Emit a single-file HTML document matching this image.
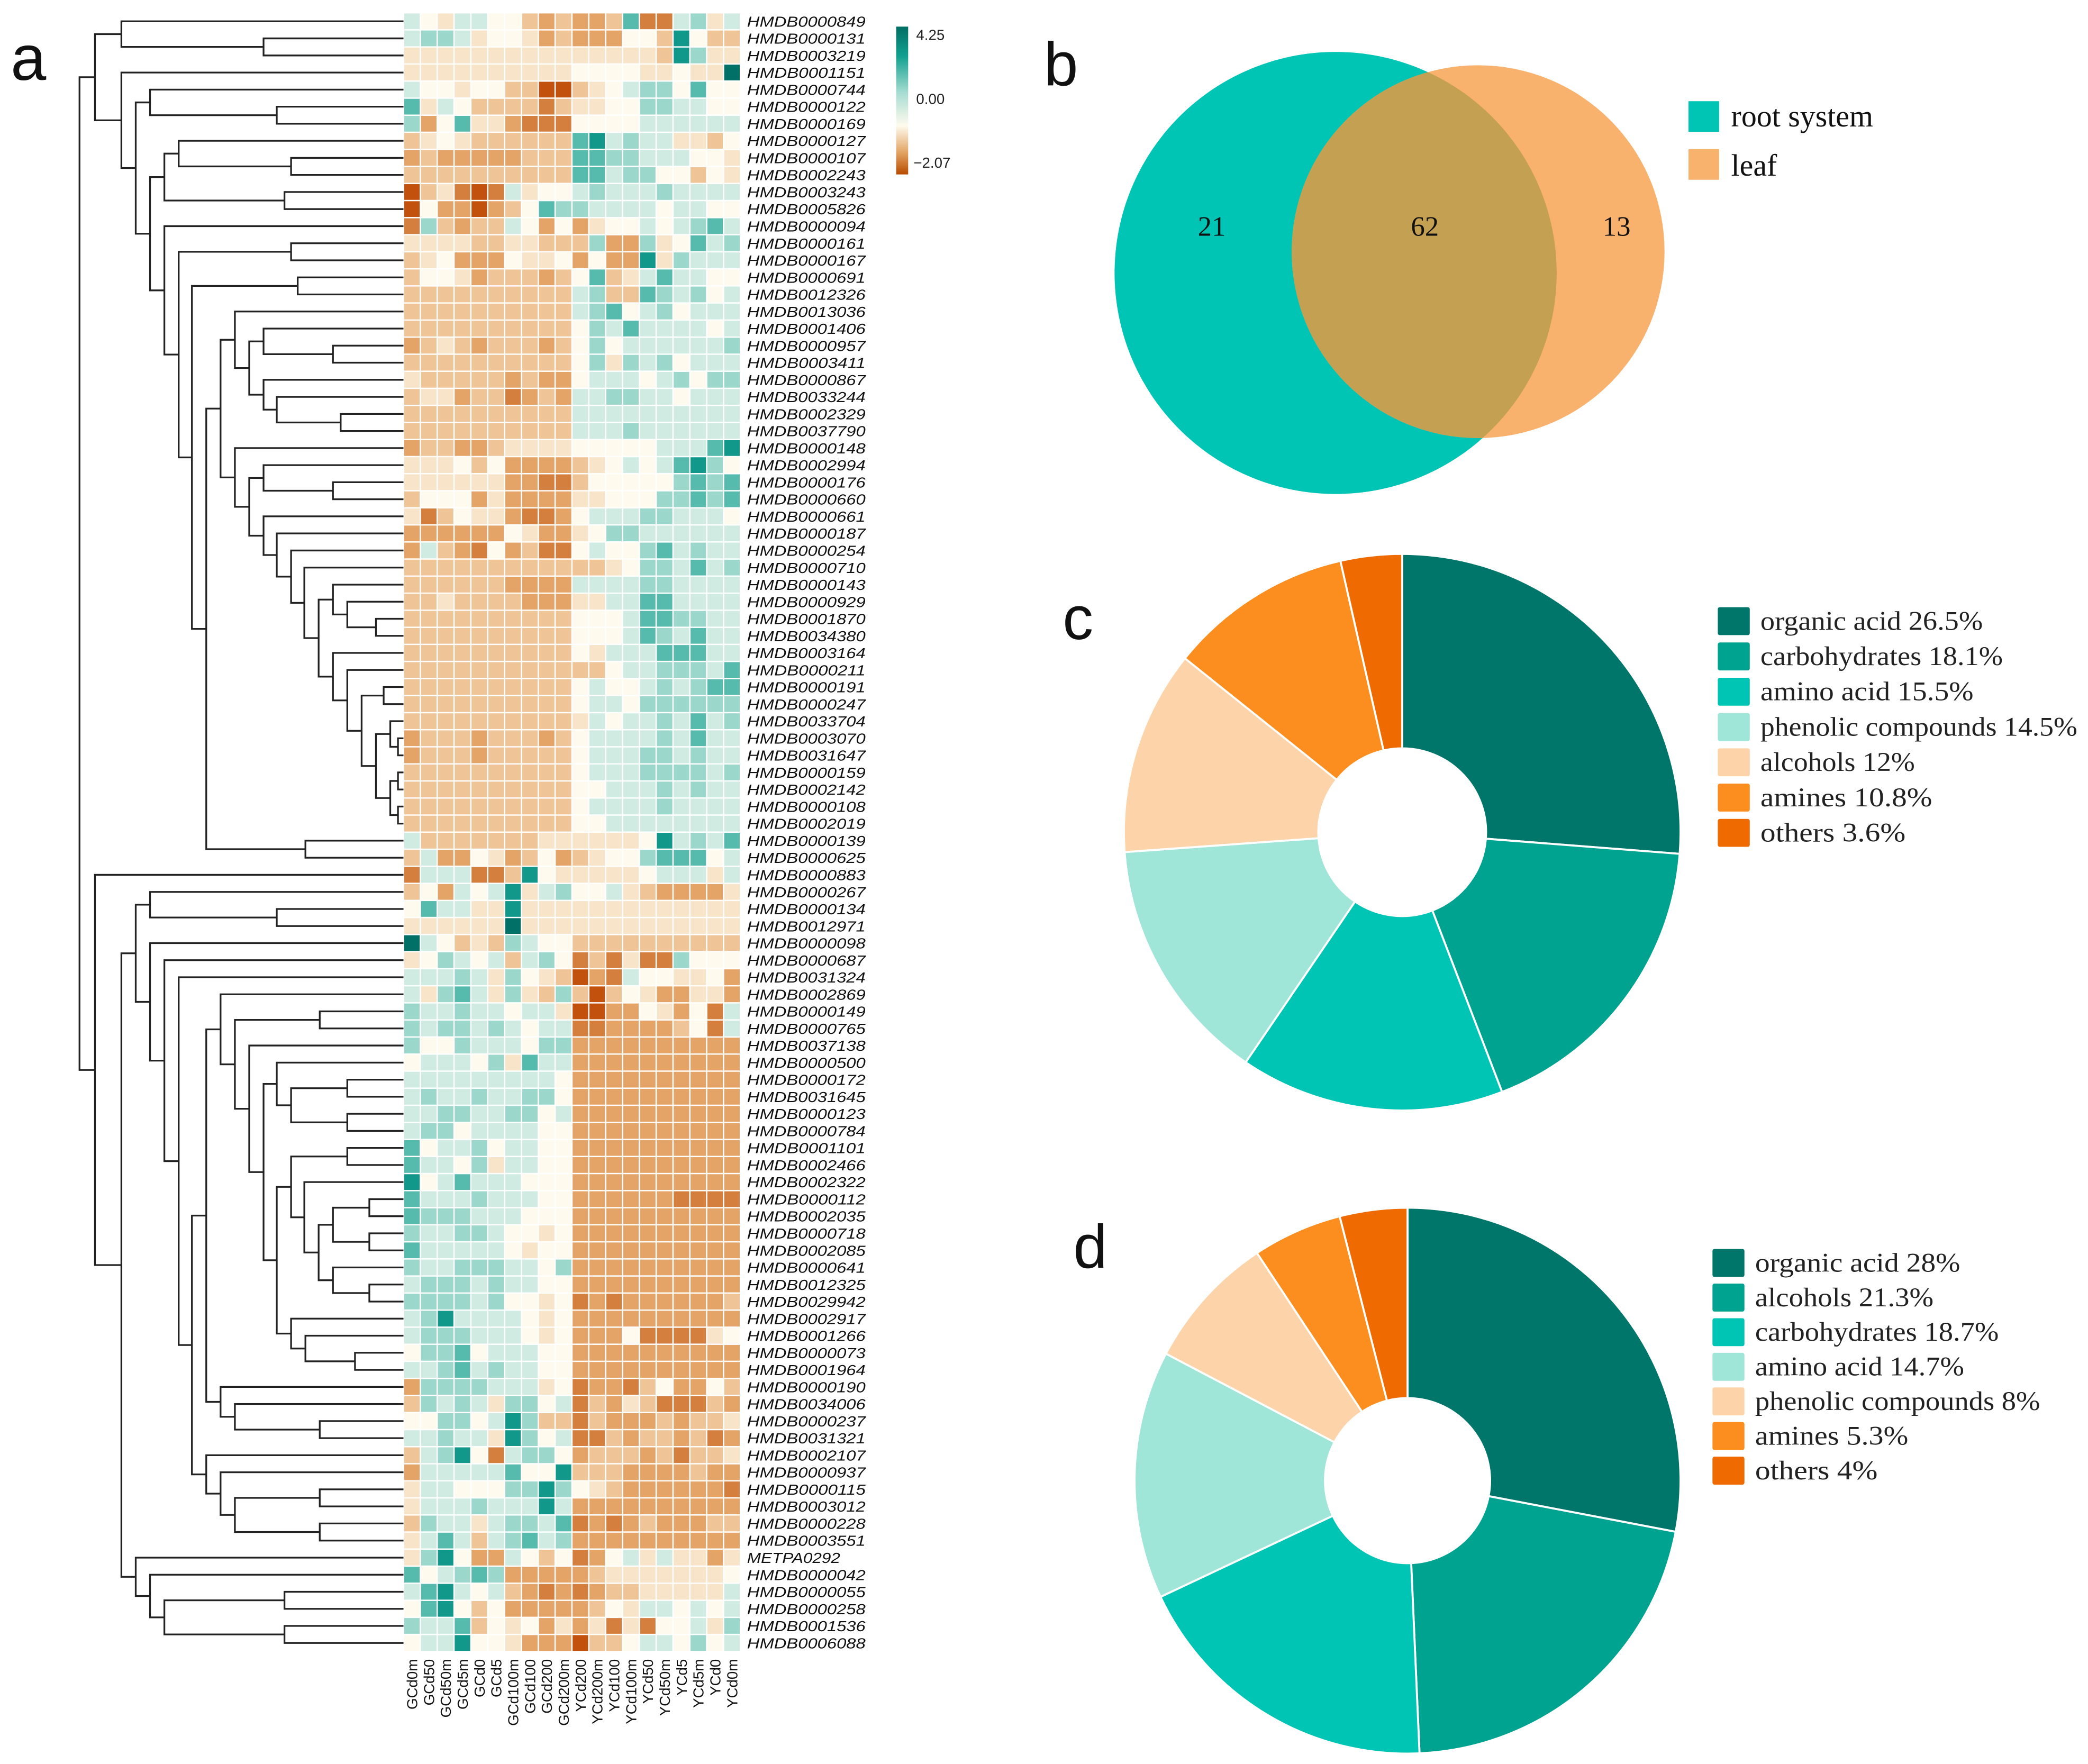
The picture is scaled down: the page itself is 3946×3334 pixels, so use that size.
<!DOCTYPE html>
<html><head><meta charset="utf-8"><title>Metabolite heatmap, Venn and donut charts</title>
<style>html,body{margin:0;padding:0;background:#fff}svg{display:block}</style></head>
<body>
<svg id="fig" xmlns="http://www.w3.org/2000/svg" width="3946" height="3334" viewBox="0 0 1568 1324.8" preserveAspectRatio="none">
<defs>
<linearGradient id="cbar" x1="0" y1="0" x2="0" y2="1">
<stop offset="0" stop-color="#006e64"/><stop offset="0.2" stop-color="#12a090"/><stop offset="0.45" stop-color="#a8ddd2"/><stop offset="0.67" stop-color="#fefbee"/><stop offset="0.85" stop-color="#e3a464"/><stop offset="1" stop-color="#b84b00"/>
</linearGradient>
<clipPath id="rootClip"><circle cx="1003" cy="205" r="166"/></clipPath>
</defs>
<g id="heat"></g>
<g id="dend" stroke="#222" stroke-width="1.3" fill="none"></g>
<g id="rowlabels" font-family="Liberation Sans, sans-serif" font-style="italic" font-size="11" fill="#111"></g>
<g id="collabels" font-family="Liberation Sans, sans-serif" font-size="11" fill="#111"></g>
<text x="8" y="60" font-family="Liberation Sans, sans-serif" font-size="48" fill="#111">a</text>
<g font-family="Liberation Sans, sans-serif" font-size="11" fill="#222">
<rect x="673" y="20" width="9" height="111" fill="url(#cbar)"/>
<text x="688" y="30">4.25</text>
<text x="688" y="78">0.00</text>
<text x="686" y="126">−2.07</text>
</g>
<g id="venn" font-family="Liberation Serif, serif" fill="#111">
<circle cx="1003" cy="205" r="166" fill="#00c5b5"/>
<circle cx="1110" cy="189" r="140" fill="#f9b26e"/>
<circle cx="1110" cy="189" r="140" fill="#c4a052" clip-path="url(#rootClip)"/>
<text x="910" y="177" font-size="21" text-anchor="middle">21</text>
<text x="1070" y="177" font-size="21" text-anchor="middle">62</text>
<text x="1214" y="177" font-size="21" text-anchor="middle">13</text>
<rect x="1268" y="76" width="23" height="23" fill="#00c5b5"/>
<text x="1300" y="95" font-size="23">root system</text>
<rect x="1268" y="112" width="23" height="23" fill="#f9b26e"/>
<text x="1300" y="132" font-size="23">leaf</text>
</g>
<text x="784" y="64" font-family="Liberation Sans, sans-serif" font-size="46" fill="#111">b</text>
<text x="798" y="480" font-family="Liberation Sans, sans-serif" font-size="46" fill="#111">c</text>
<text x="806" y="952" font-family="Liberation Sans, sans-serif" font-size="46" fill="#111">d</text>
<g id="pieC"></g>
<g id="pieD"></g>
</svg>
<script>
const heatRows = [
"10E1100DCDCCD3BB12E1","1221E00ECDCCC00D40DD","EEEEEEEEEEEEEEED42EE","EEEEEEEEEE0000EE0EE5",
"100E00DDAADE01220300","3E10DDDDBDEE00221100","2C03EECBBB0000111111","DE0EDDDDDD341211EED0",
"CDCCCCCDDD332211100E","DDDDDDDDDD3312200D0E","ADEBAB1E001211121111","A0CCACD0322111101100",
"B2DCDD10C0CE00101231","EEEEDDEEDDD2CC2E0312","DE0CCC0EE0C0CC4E2111","D00ECDDDCD03DE131100",
"DDDDDDDDDD12DD321201","DDDDDDDDDD1230120111","DDDDDDDDDD0213111101","CDEDCDDDCD0201111112",
"DDDDDDDDDD02E2120111","EDDDDDCDCC0111012022","DEECDDBCDC1122110111","DDDDDDDDDD1111111111",
"DDDDDDDDDD1112111111","CDDCCDEEEE0000011134","EEE0D0CCCCDE01013420","EEEEEECCBBD000002323",
"D000CECCCCEE00022323","EBD0EECBBC0111221110","CCCCCC0ECCE022111111","C1DCB0CDBB0100231211",
"DDDDDDDDDDDDE0221312","DDDDDDCCCC1111221111","DDEDDDDCCCEE11331111","DDDDDDDDDD0001332211",
"DDDDDDDDDD0001321311","DDDDDDDDDD0E11133311","DDDDDDDDDDDD01122213","DDDDDDDDDD0100121233",
"DDDDDDDDDD0110222222","DDDDDDDDDDE101121312","CDDDCDDDCD0111121311","CDDDCDDDDD0111221211",
"DDDDDDDDDD0111222212","DDDDDDDDDD0011121211","DDDDDDDDDD0111121111","DDDDDDDDDD0011111111",
"1DDDDDDDEEEEEE041213","D1CC0ECD0CDE00233301","B111BBD40EEEEE0111E1","D0C1014E12001EDCCCCE",
"0311EE4EEEEEEEEEEEEE","EEEEEE5EEEEEEEEEEEEE","510DED2100DDDDDDDDDD","E02101D120BDBEBB2000",
"11121E20EDACB100EE0C","1E231E2ED2DAD0ECCEEC","211211011EAACC0EC0B1","2122121011BBCCCCD0B1",
"2002111022CCCCCCCCCC","011102E311CCCCCCCCCC","1111111110CCCCCCCCCC","1211211220CCCCCCCCCC",
"1122112201CCCCCCCCCC","1220111100CCCCCCCCCC","3011201100CCCCCCCCCC","31102E1100CCCCCCCCCC",
"4013111000CCCCCCCCCC","3111211100CCCCCCBBBB","3222111000CCCCCCCCCC","21122100E0CCCCCCCCCC",
"3111110E00CCCCCCCCCC","2112221102CCCCCCCCCC","1222121100CCCCCCCCCC","22221200E0BCBCCCCCCD",
"12411110E0CCCCCCCCCC","12221110E0CCC0BBBBE0","0223011100CCCCCCCCCC","1123121100CCCCCCCCCC",
"C2222111E0BCCBD0CC0D","D2121E2201BDCEDBBBDC","00220142DDBDCCCDCDDE","11211E4201BBDCDDCDBC",
"D1240B1220CDDDCDBDDE","C111113004DDDCCCCDCC","E1100022420EDCCCCCCB","E111211141CCCCCCCCCC",
"D211E12213BCBCDCCCDD","E131D12312CCCCCCCCCC","E240CC10D0BC01E1EECE","301232CCCCCDEEEEEEE0",
"134101DCBCBCDDEEEEE1","0340D0CCCCCD0E110101","2113D0E0CECEBEB001E2","011400ECCCADD0110201"
];
const levelCodes = ["A","B","C","D","E","0","1","2","3","4","5"];
const levelValues = [-2.0,-1.5,-1.1,-0.7,-0.3,0,0.6,1.2,2.0,3.0,4.2];
const rowNames = ["HMDB0000849","HMDB0000131","HMDB0003219","HMDB0001151","HMDB0000744","HMDB0000122","HMDB0000169","HMDB0000127","HMDB0000107","HMDB0002243","HMDB0003243","HMDB0005826","HMDB0000094","HMDB0000161","HMDB0000167","HMDB0000691","HMDB0012326","HMDB0013036","HMDB0001406","HMDB0000957","HMDB0003411","HMDB0000867","HMDB0033244","HMDB0002329","HMDB0037790","HMDB0000148","HMDB0002994","HMDB0000176","HMDB0000660","HMDB0000661","HMDB0000187","HMDB0000254","HMDB0000710","HMDB0000143","HMDB0000929","HMDB0001870","HMDB0034380","HMDB0003164","HMDB0000211","HMDB0000191","HMDB0000247","HMDB0033704","HMDB0003070","HMDB0031647","HMDB0000159","HMDB0002142","HMDB0000108","HMDB0002019","HMDB0000139","HMDB0000625","HMDB0000883","HMDB0000267","HMDB0000134","HMDB0012971","HMDB0000098","HMDB0000687","HMDB0031324","HMDB0002869","HMDB0000149","HMDB0000765","HMDB0037138","HMDB0000500","HMDB0000172","HMDB0031645","HMDB0000123","HMDB0000784","HMDB0001101","HMDB0002466","HMDB0002322","HMDB0000112","HMDB0002035","HMDB0000718","HMDB0002085","HMDB0000641","HMDB0012325","HMDB0029942","HMDB0002917","HMDB0001266","HMDB0000073","HMDB0001964","HMDB0000190","HMDB0034006","HMDB0000237","HMDB0031321","HMDB0002107","HMDB0000937","HMDB0000115","HMDB0003012","HMDB0000228","HMDB0003551","METPA0292","HMDB0000042","HMDB0000055","HMDB0000258","HMDB0001536","HMDB0006088"];
const colNames = ["GCd0m","GCd50","GCd50m","GCd5m","GCd0","GCd5","GCd100m","GCd100","GCd200","GCd200m","YCd200","YCd200m","YCd100","YCd100m","YCd50","YCd50m","YCd5","YCd5m","YCd0","YCd0m"];

const pieCLabels = ["organic acid 26.5%","carbohydrates 18.1%","amino acid  15.5%","phenolic compounds 14.5%","alcohols  12%","amines  10.8%","others  3.6%"];
const pieCValues = [26.5,18.1,15.5,14.5,12,10.8,3.6];
const pieCColors = ["#00766a","#00a290","#00c5b5","#a0e6d8","#fdd4aa","#fb8e1e","#ef6a00"];
const pieDLabels = ["organic acid  28%","alcohols  21.3%","carbohydrates  18.7%","amino acid  14.7%","phenolic compounds  8%","amines  5.3%","others  4%"];
const pieDValues = [28,21.3,18.7,14.7,8,5.3,4];
const pieDColors = ["#00766a","#00a290","#00c5b5","#a0e6d8","#fdd4aa","#fb8e1e","#ef6a00"];

function N(d,a,b){return [d,a,b];}
// dendrogram merge distances; leaves are row numbers (1-based)
const dU = N(765,18,N(700,N(635,19,N(320,20,21)),N(635,22,N(575,23,N(285,24,25)))));
const dTail = N(190,N(90,40,41),N(125,N(60,42,N(25,43,44)),N(60,N(25,45,46),N(25,47,48))));
const d38 = N(320,38,N(255,39,dTail));
const d34 = N(320,34,N(255,35,N(125,36,37)));
const dL = N(765,26,N(700,N(635,27,N(320,28,29)),N(635,30,N(575,31,N(510,32,N(450,33,N(385,d34,d38)))))));
const dBig = N(830,dU,dL);
const dMid = N(1150,N(1085,N(1020,8,N(510,9,10)),N(540,11,12)),N(1085,13,N(1020,N(510,14,15),N(960,N(480,16,17),N(895,dBig,N(445,49,50))))));
const treeTop = N(1400,N(1280,1,N(635,2,3)),N(1280,4,N(1215,N(1150,5,N(575,6,7)),dMid)));
const dA = N(575,62,N(510,N(255,63,64),N(255,65,66)));
const dB = N(575,N(510,N(255,67,68),N(450,69,N(385,N(320,N(155,70,71),N(155,72,73)),N(320,74,N(155,75,76))))),N(510,77,N(445,78,N(220,79,80))));
const treeP = N(895,N(830,58,N(765,N(380,59,60),N(700,61,N(635,dA,dB)))),N(830,81,N(765,82,N(380,83,84))));
const treeQ = N(895,85,N(830,86,N(765,N(380,87,88),N(380,89,90))));
const dBotA = N(1215,N(1150,52,N(575,53,54)),N(1150,55,N(1085,56,N(1020,57,N(960,treeP,treeQ)))));
const dBotB = N(1215,91,N(1150,92,N(1085,N(540,93,94),N(540,95,96))));
const treeBottom = N(1400,51,N(1280,dBotA,dBotB));
const treeRoot = N(1470,treeTop,treeBottom);

const NS="http://www.w3.org/2000/svg";
function mk(tag,attrs,parent){const e=document.createElementNS(NS,tag);for(const k in attrs)e.setAttribute(k,attrs[k]);parent.appendChild(e);return e;}

const X0=303, COLW=12.65, Y0=9.6, ROWH=12.82;
function xCol(j){return X0+j*COLW;}
function yRow(i){return Y0+i*ROWH;}
function lerp(a,b,t){return a.map((v,k)=>Math.round(v+(b[k]-v)*t));}
function ramp(stops,t){for(let k=1;k<stops.length;k++){if(t<=stops[k][0]){const s=stops[k-1],e=stops[k];return lerp(s[1],e[1],(t-s[0])/(e[0]-s[0]));}}return stops[stops.length-1][1];}
const negStops=[[0,[254,251,238]],[0.5,[232,170,110]],[1,[190,75,5]]];
const posStops=[[0,[254,251,238]],[0.15,[205,235,225]],[0.35,[130,205,192]],[0.65,[20,160,145]],[1,[0,110,100]]];
function color(v){const c=v<0?ramp(negStops,Math.min(1,-v/2.07)):ramp(posStops,Math.min(1,v/4.25));return "rgb("+c.join(",")+")";}

const heat=document.getElementById("heat");
heatRows.forEach((row,i)=>{
  for(let j=0;j<colNames.length;j++){
    const v=levelValues[levelCodes.indexOf(row[j])];
    const r=mk("rect",{x:(xCol(j)+0.5).toFixed(2),y:(yRow(i)+0.5).toFixed(2),width:(COLW-1).toFixed(2),height:(ROWH-1).toFixed(2),fill:color(v)},heat);
    
    
  }
});
const rl=document.getElementById("rowlabels");
rowNames.forEach((n,i)=>{
  const t=mk("text",{x:561,y:(yRow(i)+ROWH/2+4).toFixed(2),textLength:n.length>9?89:70,lengthAdjust:"spacingAndGlyphs"},rl);
  t.textContent=n;
  
  
});
const cl=document.getElementById("collabels");
colNames.forEach((n,j)=>{
  const cx=xCol(j)+COLW/2+4, cy=1246;
  const t=mk("text",{x:cx.toFixed(2),y:cy,transform:"rotate(-90 "+cx.toFixed(2)+" "+cy+")","text-anchor":"end"},cl);
  t.textContent=n;
  
  
});

const dg=document.getElementById("dend");
let dpath="";
function dx(d){return 303-d*0.1655;}
function layout(node){
  if(typeof node==="number"){return {x:303,y:yRow(node-1)+ROWH/2};}
  const a=layout(node[1]), b=layout(node[2]); const x=dx(node[0]);
  dpath+="M"+a.x.toFixed(2)+" "+a.y.toFixed(2)+"H"+x.toFixed(2)+"V"+b.y.toFixed(2)+"H"+b.x.toFixed(2);
  return {x:x,y:(a.y+b.y)/2};
}
layout(treeRoot);
const dp=mk("path",{d:dpath},dg);



function donut(gid,cx,cy,R,r,values,colors,labels,lx,ly,step,fs,tl){
  const g=document.getElementById(gid);
  const total=values.reduce((s,v)=>s+v,0);
  let a0=-Math.PI/2;
  values.forEach((v,k)=>{
    const a1=a0+v/total*2*Math.PI; const large=(a1-a0)>Math.PI?1:0;
    const p=(a,rad)=>(cx+rad*Math.cos(a)).toFixed(2)+" "+(cy+rad*Math.sin(a)).toFixed(2);
    const d="M"+p(a0,R)+"A"+R+" "+R+" 0 "+large+" 1 "+p(a1,R)+"L"+p(a1,r)+"A"+r+" "+r+" 0 "+large+" 0 "+p(a0,r)+"Z";
    const s=mk("path",{d:d,fill:colors[k],stroke:"#fff","stroke-width":1.5},g);
    
    
    a0=a1;
  });
  labels.forEach((t,k)=>{
    const sw=mk("rect",{x:lx,y:(ly+k*step).toFixed(2),width:24,height:21,fill:colors[k],rx:1.5},g);
    
    
    const tx=mk("text",{x:lx+32,y:(ly+k*step+17).toFixed(2),"font-family":"Liberation Serif, serif","font-size":fs,fill:"#222",textLength:tl[k],lengthAdjust:"spacingAndGlyphs"},g);
    tx.textContent=t;
    
    
  });
}
donut("pieC",1053,625,209,63,pieCValues,pieCColors,pieCLabels,1290,456,26.5,20,[167,182,160,238,116,129,109]);
donut("pieD",1057,1112,205,62,pieDValues,pieDColors,pieDLabels,1286,938,26,20,[154,134,183,157,214,115,92]);
</script>
</body></html>
